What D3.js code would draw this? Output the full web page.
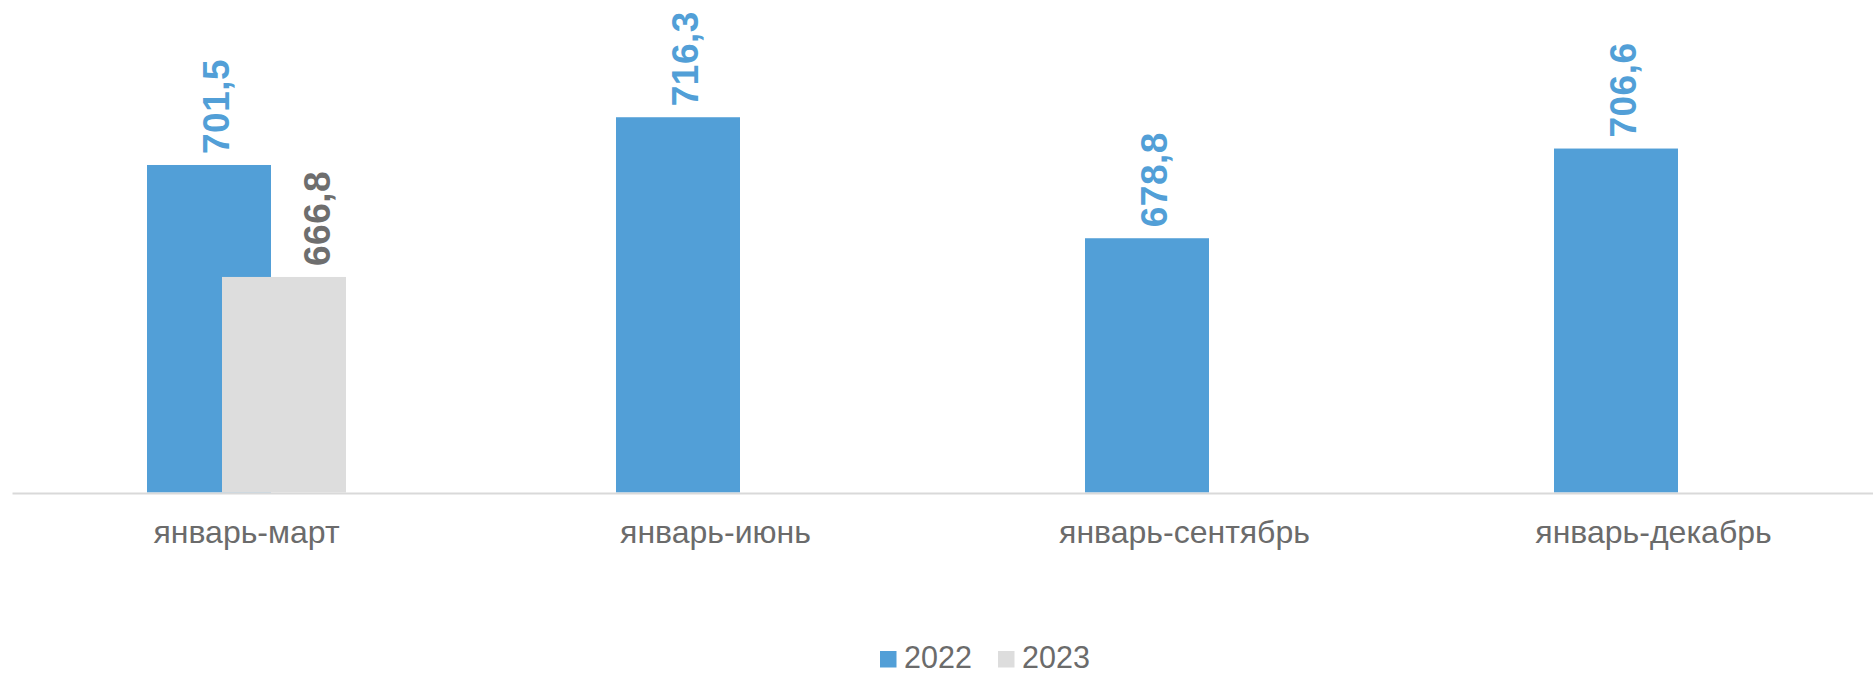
<!DOCTYPE html>
<html>
<head>
<meta charset="utf-8">
<script src="https://cdn.jsdelivr.net/npm/d3@7/dist/d3.min.js"></script>
<style>
html, body { margin: 0; padding: 0; background: #ffffff; }
svg { display: block; }
</style>
</head>
<body>
<svg id="chart" width="1873" height="673"></svg>
<script>
// ---- data ----
const categories = ["январь-март", "январь-июнь", "январь-сентябрь", "январь-декабрь"];
const seriesNames = ["2022", "2023"];
const values2022 = [701.5, 716.3, 678.8, 706.6];
const values2023 = [666.8, null, null, null];
const valueDomain = [600, 720];

// ---- style / layout ----
const W = 1873, H = 673;
const colors = ["#529fd7", "#dddddd"];
const labelColors = ["#529fd7", "#6e6e6e"];
const labelDx = [7, 33];
const plotLeft = 12, plotRight = 1888, baseY = 492.5, topY = 105.3;
const barW = 124, seriesStep = 75;

const svg = d3.select("#chart");

const x = d3.scaleBand().domain(categories).range([plotLeft, plotRight]).padding(0);
const y = d3.scaleLinear().domain(valueDomain).range([baseY, topY]);

const series = [values2022, values2023].map((vals, si) => ({
  name: seriesNames[si], si,
  points: vals.map((v, ci) => ({ cat: categories[ci], v, si }))
}));

function barCenter(d) {
  const n = seriesNames.length;
  return x(d.cat) + x.bandwidth() / 2 + (d.si - (n - 1) / 2) * seriesStep;
}

const g = svg.append("g");
series.forEach(s => {
  const pts = s.points.filter(p => p.v != null);
  g.selectAll(null).data(pts).enter().append("rect")
    .attr("x", d => barCenter(d) - barW / 2)
    .attr("y", d => y(d.v))
    .attr("width", barW)
    .attr("height", d => y(valueDomain[0]) - y(d.v))
    .attr("fill", colors[s.si]);
});

// axis line
const xAxis = d3.axisBottom(x).tickSize(0).tickPadding(0);
const axisG = svg.append("g").attr("transform", `translate(0,${baseY + 0.5})`).call(xAxis);
axisG.select(".domain").attr("stroke", "#d9d9d9").attr("stroke-width", 2);
axisG.selectAll(".tick text")
  .attr("dy", 0)
  .attr("y", 50)
  .attr("fill", "#6b6b6b")
  .attr("font-family", "'Liberation Sans', Arial, sans-serif")
  .attr("font-size", 32);

// data labels
const fmt = v => d3.format(".1f")(v).replace(".", ",");
series.forEach(s => {
  const pts = s.points.filter(p => p.v != null);
  svg.selectAll(null).data(pts).enter().append("text")
    .attr("transform", d => `translate(${barCenter(d) + labelDx[s.si]},${y(d.v) - 11}) rotate(-90)`)
    .attr("text-anchor", "start")
    .attr("dominant-baseline", "central")
    .attr("fill", labelColors[s.si])
    .attr("font-family", "'Liberation Sans', Arial, sans-serif")
    .attr("font-weight", "bold")
    .attr("font-size", 37)
    .attr("letter-spacing", 0.5)
    .text(d => fmt(d.v));
});

// legend
const legendItems = [
  { name: seriesNames[0], color: colors[0], x: 880 },
  { name: seriesNames[1], color: colors[1], x: 998 }
];
const lg = svg.append("g");
legendItems.forEach(it => {
  lg.append("rect").attr("x", it.x).attr("y", 651).attr("width", 16.5).attr("height", 16.5).attr("fill", it.color);
  lg.append("text").attr("x", it.x + 24).attr("y", 668)
    .attr("fill", "#6b6b6b")
    .attr("font-family", "'Liberation Sans', Arial, sans-serif")
    .attr("font-size", 30.5)
    .text(it.name);
});
</script>
</body>
</html>
